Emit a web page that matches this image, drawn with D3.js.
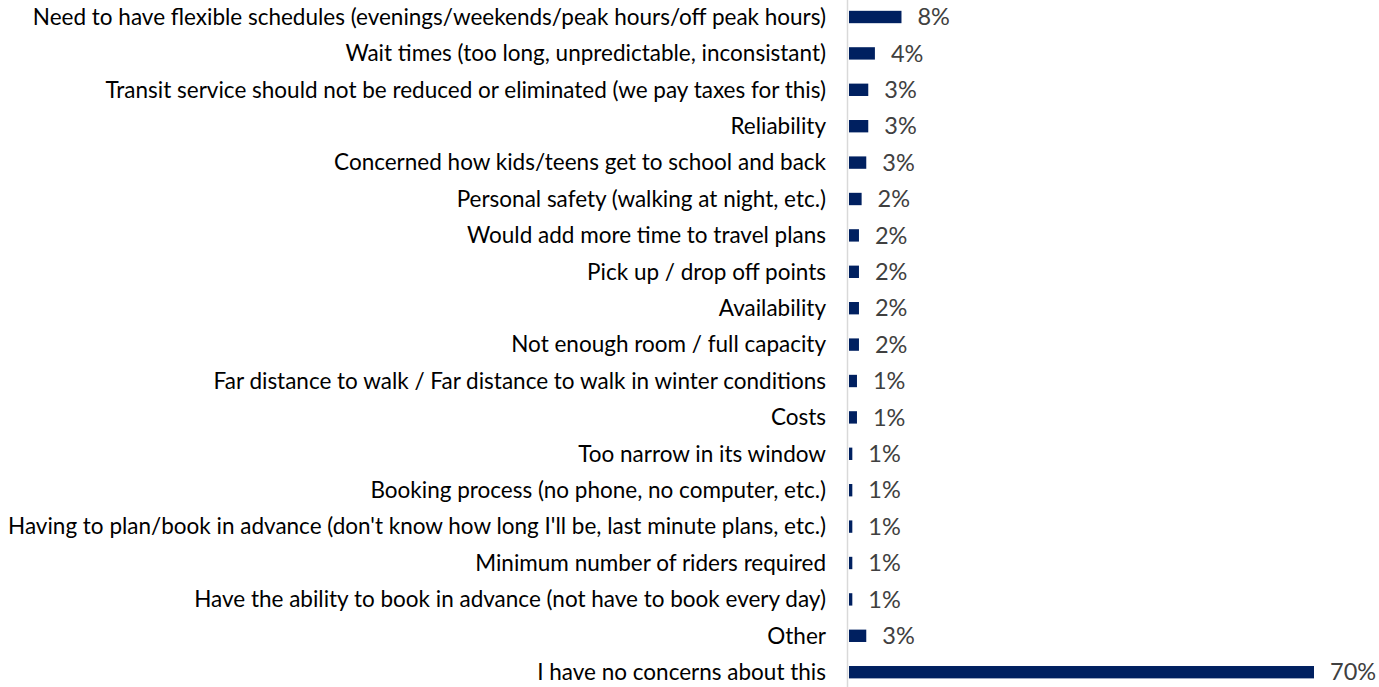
<!DOCTYPE html>
<html>
<head>
<meta charset="utf-8">
<script src="https://cdn.jsdelivr.net/npm/d3@7"></script>
<style>
  body { margin: 0; background: #fff; }
  text { font-family: Lato, "Open Sans", sans-serif; }
</style>
</head>
<body>
<div id="chart"></div>
<script>
var categories = [
  "Need to have flexible schedules (evenings/weekends/peak hours/off peak hours)",
  "Wait times (too long, unpredictable, inconsistant)",
  "Transit service should not be reduced or eliminated (we pay taxes for this)",
  "Reliability",
  "Concerned how kids/teens get to school and back",
  "Personal safety (walking at night, etc.)",
  "Would add more time to travel plans",
  "Pick up / drop off points",
  "Availability",
  "Not enough room / full capacity",
  "Far distance to walk / Far distance to walk in winter conditions",
  "Costs",
  "Too narrow in its window",
  "Booking process (no phone, no computer, etc.)",
  "Having to plan/book in advance (don't know how long I'll be, last minute plans, etc.)",
  "Minimum number of riders required",
  "Have the ability to book in advance (not have to book every day)",
  "Other",
  "I have no concerns about this"
];
var values = [7.9, 3.9, 2.9, 2.9, 2.6, 1.9, 1.5, 1.5, 1.5, 1.5, 1.2, 1.2, 0.5, 0.5, 0.5, 0.5, 0.5, 2.6, 70];
var valueLabels = ["8%", "4%", "3%", "3%", "3%", "2%", "2%", "2%", "2%", "2%", "1%", "1%", "1%", "1%", "1%", "1%", "1%", "3%", "70%"];

var width = 1379,
    height = 687;

var svg = d3.select("#chart")
    .append("svg")
    .attr("width", width)
    .attr("height", height);

var x0 = 849;
var x = d3.scaleLinear().domain([0, 70]).range([x0, 1314]);
var y = d3.scaleBand().domain(categories).range([-1.2, 690.4]).paddingInner(0.66).paddingOuter(0.33);

// axis line
svg.append("line")
    .attr("x1", 847.5).attr("x2", 847.5)
    .attr("y1", 0).attr("y2", height)
    .attr("stroke", "#d9d9d9")
    .attr("stroke-width", 1.5);

svg.selectAll("rect.bar")
    .data(values)
    .enter().append("rect")
    .attr("class", "bar")
    .attr("x", x0)
    .attr("y", function(d, i) { return y(categories[i]); })
    .attr("width", function(d) { return x(d) - x0; })
    .attr("height", y.bandwidth())
    .attr("fill", "#002060");

svg.selectAll("text.cat")
    .data(categories)
    .enter().append("text")
    .attr("class", "cat")
    .attr("x", 826)
    .attr("y", function(d) { return y(d) + y.bandwidth() / 2; })
    .attr("dy", "0.35em")
    .attr("text-anchor", "end")
    .attr("font-size", 22.5)
    .attr("fill", "#000")
    .text(function(d) { return d; });

svg.selectAll("text.val")
    .data(values)
    .enter().append("text")
    .attr("class", "val")
    .attr("x", function(d) { return x(d) + 16; })
    .attr("y", function(d, i) { return y(categories[i]) + y.bandwidth() / 2; })
    .attr("dy", "0.35em")
    .attr("font-size", 23.5)
    .attr("fill", "#404040")
    .text(function(d, i) { return valueLabels[i]; });
</script>
</body>
</html>
